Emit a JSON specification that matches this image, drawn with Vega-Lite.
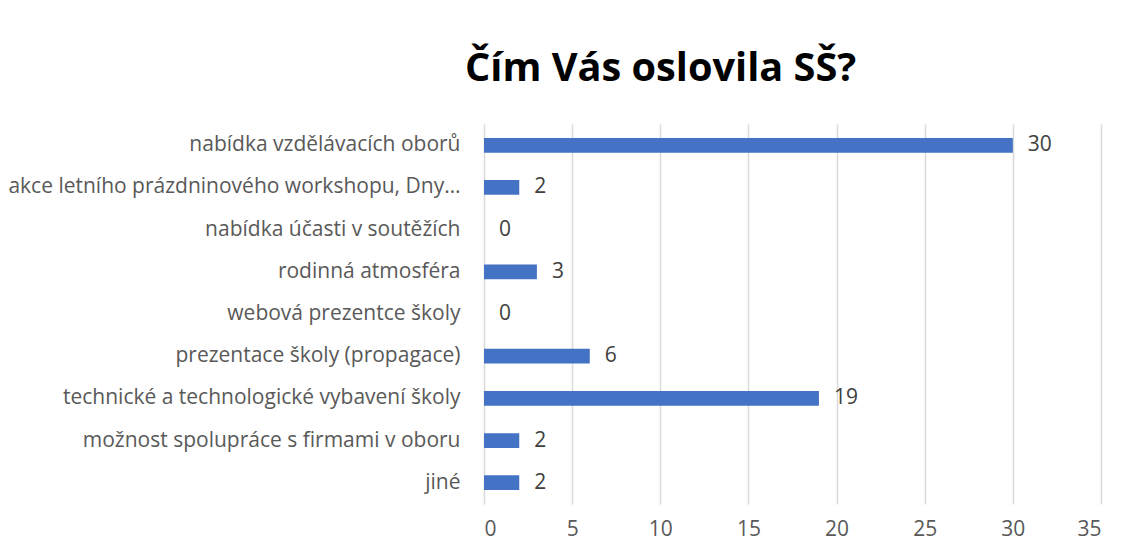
{
  "$schema": "https://vega.github.io/schema/vega-lite/v6.json",
  "width": 617,
  "height": 380,
  "autosize": {"type": "none"},
  "padding": {"left": 484, "top": 124, "right": 30, "bottom": 52},
  "background": "white",
  "title": {
    "text": "Čím Vás oslovila SŠ?",
    "anchor": "start",
    "frame": "group",
    "dx": -19,
    "offset": 34,
    "font": "Open Sans",
    "fontSize": 39.7,
    "fontWeight": "bold",
    "color": "#000000"
  },
  "data": {
    "values": [
      {"kategorie": "nabídka vzdělávacích oborů", "pocet": 30},
      {"kategorie": "akce letního prázdninového workshopu, Dny…", "pocet": 2},
      {"kategorie": "nabídka účasti v soutěžích", "pocet": 0},
      {"kategorie": "rodinná atmosféra", "pocet": 3},
      {"kategorie": "webová prezentce školy", "pocet": 0},
      {"kategorie": "prezentace školy (propagace)", "pocet": 6},
      {"kategorie": "technické a technologické vybavení školy", "pocet": 19},
      {"kategorie": "možnost spolupráce s firmami v oboru", "pocet": 2},
      {"kategorie": "jiné", "pocet": 2}
    ]
  },
  "encoding": {
    "y": {
      "field": "kategorie",
      "type": "nominal",
      "sort": null,
      "scale": {"paddingInner": 0.65, "paddingOuter": 0.33},
      "axis": {
        "title": null,
        "domain": false,
        "ticks": false,
        "labelPadding": 24,
        "labelFont": "Open Sans",
        "labelFontSize": 21,
        "labelColor": "#595959",
        "labelLimit": 480
      }
    },
    "x": {
      "field": "pocet",
      "type": "quantitative",
      "scale": {"domain": [0, 35]},
      "axis": {
        "title": null,
        "values": [0, 5, 10, 15, 20, 25, 30, 35],
        "domain": false,
        "ticks": false,
        "grid": true,
        "gridColor": "#d9d9d9",
        "gridWidth": 1.5,
        "labelPadding": 14,
        "labelFont": "Open Sans",
        "labelFontSize": 21,
        "labelColor": "#595959"
      }
    }
  },
  "layer": [
    {"mark": {"type": "bar", "color": "#4472C4"}},
    {
      "mark": {"type": "text", "align": "left", "dx": 15, "font": "Open Sans", "fontSize": 21, "color": "#404040"},
      "encoding": {"text": {"field": "pocet", "type": "quantitative"}}
    }
  ],
  "config": {"view": {"stroke": null}}
}
